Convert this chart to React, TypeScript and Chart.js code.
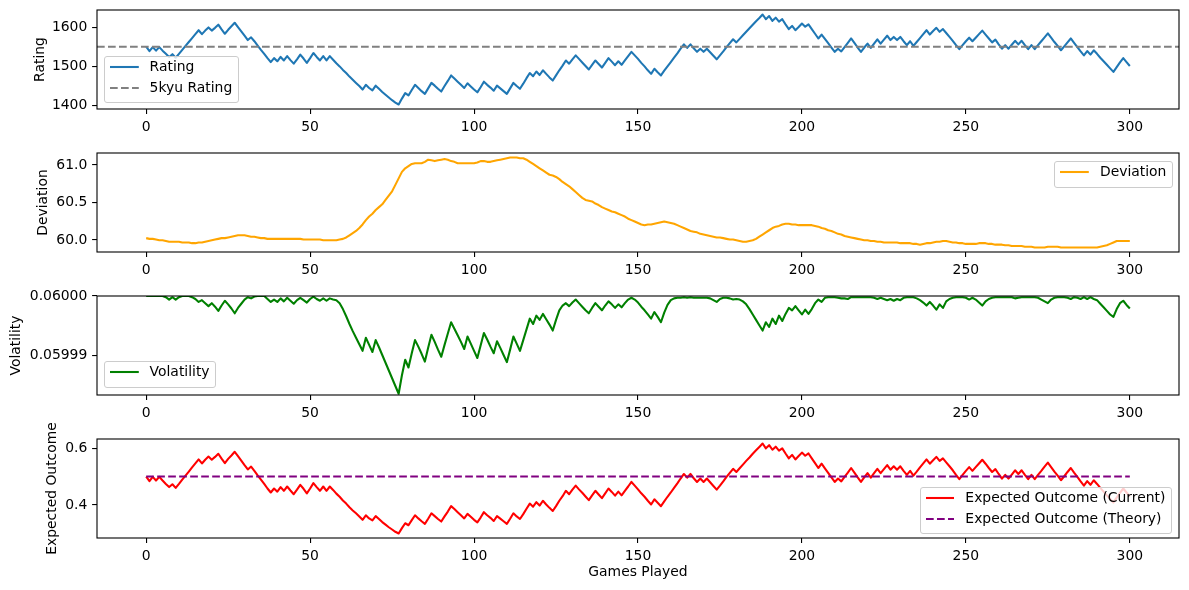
import React, { useEffect, useRef } from "react";
import { Chart, registerables } from "chart.js";

Chart.register(...registerables);

// ---------------- data ----------------
const rating = [
  1550, 1539, 1549, 1540, 1549, 1540, 1532, 1524, 1531, 1522,
  1532, 1542, 1552, 1562, 1572, 1582, 1592, 1582, 1591, 1599,
  1591, 1598, 1606, 1594, 1583, 1593, 1602, 1611, 1600, 1589,
  1578, 1567, 1574, 1564, 1553, 1542, 1532, 1521, 1511, 1521,
  1513, 1524, 1515, 1526, 1516, 1507, 1518, 1530, 1520, 1509,
  1521, 1534, 1524, 1515, 1526, 1515, 1526, 1517, 1508, 1500,
  1491, 1483, 1474, 1466, 1458, 1450, 1441, 1453, 1445, 1439,
  1451, 1443, 1435, 1428, 1421, 1414, 1408, 1403, 1418, 1432,
  1426, 1440, 1453, 1445, 1437, 1430, 1444, 1458, 1451, 1443,
  1436, 1450, 1463, 1477, 1469, 1461, 1453, 1445, 1457, 1449,
  1441, 1434, 1447, 1461, 1453, 1446, 1438, 1451, 1444, 1437,
  1430, 1444, 1458, 1450, 1443, 1456, 1470, 1483, 1475, 1487,
  1478, 1490, 1481, 1472, 1464, 1477, 1490, 1502, 1515, 1507,
  1518, 1528, 1519, 1510, 1501, 1492, 1504, 1515, 1506, 1497,
  1509, 1521, 1512, 1503, 1513, 1504, 1515, 1526, 1537, 1528,
  1519, 1509, 1500, 1490, 1481, 1494, 1485, 1477, 1489, 1500,
  1511, 1522, 1533, 1545, 1556, 1547, 1556, 1546, 1537, 1545,
  1537, 1545, 1536, 1527, 1518, 1528, 1538, 1549, 1559, 1569,
  1561, 1570, 1579, 1588, 1597, 1606, 1615, 1623, 1632, 1620,
  1628, 1616, 1624, 1614, 1620, 1607, 1595, 1603, 1592, 1600,
  1609, 1601, 1607, 1595, 1583, 1571, 1581, 1570, 1559, 1548,
  1537, 1545, 1538, 1549, 1560, 1571, 1560, 1548, 1537, 1548,
  1558, 1547, 1558, 1569, 1558, 1568, 1578, 1567, 1575, 1567,
  1575, 1564, 1554, 1564, 1552, 1562, 1572, 1582, 1592, 1581,
  1590, 1598, 1588, 1595, 1585, 1575, 1565, 1554, 1544, 1554,
  1564, 1573, 1564, 1573, 1582, 1591, 1581, 1571, 1561, 1568,
  1556, 1545, 1554, 1545, 1555, 1565, 1556, 1565, 1554, 1544,
  1554, 1544, 1554, 1564, 1574, 1584, 1573, 1562, 1552, 1541,
  1551, 1561, 1571, 1560, 1549, 1538, 1528, 1539, 1530, 1541,
  1532, 1522, 1513, 1504, 1495, 1486, 1498, 1510, 1521, 1511,
  1501,
];

const kyuRating = 1550;

const deviation = [
  60.025, 60.015, 60.015, 60.006, 59.996, 59.996, 59.986, 59.977, 59.977, 59.977,
  59.977, 59.967, 59.967, 59.967, 59.958, 59.958, 59.967, 59.967, 59.977, 59.986,
  59.996, 60.006, 60.015, 60.025, 60.025, 60.034, 60.044, 60.054, 60.063, 60.063,
  60.063, 60.054, 60.044, 60.044, 60.034, 60.025, 60.025, 60.015, 60.015, 60.015,
  60.015, 60.015, 60.015, 60.015, 60.015, 60.015, 60.015, 60.015, 60.006, 60.006,
  60.006, 60.006, 60.006, 60.006, 59.996, 59.996, 59.996, 59.996, 59.996, 60.006,
  60.015, 60.034, 60.063, 60.092, 60.121, 60.159, 60.207, 60.265, 60.313, 60.351,
  60.399, 60.438, 60.476, 60.534, 60.591, 60.649, 60.735, 60.822, 60.908, 60.956,
  60.985, 61.014, 61.023, 61.023, 61.023, 61.042, 61.071, 61.062, 61.052, 61.062,
  61.071, 61.081, 61.071, 61.052, 61.042, 61.023, 61.023, 61.023, 61.023, 61.023,
  61.023, 61.033, 61.052, 61.052, 61.042, 61.042, 61.052, 61.062, 61.071, 61.081,
  61.09, 61.1, 61.1, 61.1, 61.09, 61.09, 61.071, 61.042, 61.014, 60.985,
  60.956, 60.927, 60.898, 60.87, 60.86, 60.841, 60.812, 60.774, 60.745, 60.716,
  60.678, 60.639, 60.601, 60.562, 60.534, 60.524, 60.514, 60.486, 60.466, 60.438,
  60.418, 60.399, 60.38, 60.37, 60.351, 60.332, 60.313, 60.284, 60.265, 60.246,
  60.226, 60.207, 60.198, 60.207, 60.207, 60.217, 60.226, 60.236, 60.246, 60.236,
  60.226, 60.217, 60.198, 60.178, 60.159, 60.14, 60.121, 60.111, 60.102, 60.082,
  60.073, 60.063, 60.054, 60.044, 60.034, 60.034, 60.025, 60.015, 60.006, 60.006,
  59.996, 59.986, 59.977, 59.977, 59.986, 59.996, 60.015, 60.044, 60.073, 60.102,
  60.13, 60.159, 60.178, 60.188, 60.207, 60.217, 60.217, 60.207, 60.207, 60.198,
  60.198, 60.198, 60.198, 60.198, 60.188, 60.178, 60.159, 60.15, 60.13, 60.121,
  60.102, 60.082, 60.073, 60.054, 60.044, 60.034, 60.025, 60.015, 60.006, 59.996,
  59.996, 59.986, 59.986, 59.977, 59.977, 59.967, 59.967, 59.967, 59.967, 59.967,
  59.958, 59.958, 59.958, 59.958, 59.948, 59.948, 59.938, 59.948, 59.958, 59.958,
  59.967, 59.977, 59.977, 59.986, 59.986, 59.977, 59.967, 59.967, 59.958, 59.958,
  59.948, 59.948, 59.948, 59.948, 59.958, 59.958, 59.958, 59.948, 59.948, 59.938,
  59.938, 59.938, 59.929, 59.929, 59.919, 59.919, 59.919, 59.919, 59.91, 59.91,
  59.91, 59.9, 59.9, 59.9, 59.9, 59.91, 59.91, 59.91, 59.91, 59.9,
  59.9, 59.9, 59.9, 59.9, 59.9, 59.9, 59.9, 59.9, 59.9, 59.9,
  59.9, 59.91, 59.919, 59.929, 59.948, 59.967, 59.986, 59.986, 59.986, 59.986,
  59.986,
];

const volatility = [
  0.06, 0.06, 0.06, 0.06, 0.06, 0.06, 0.0599998, 0.0599994, 0.0599998, 0.0599994,
  0.0599998, 0.06, 0.06, 0.06, 0.0599998, 0.0599995, 0.059999, 0.0599993, 0.0599988, 0.0599983,
  0.0599988, 0.0599982, 0.0599975, 0.0599984, 0.0599992, 0.0599986, 0.0599979, 0.0599971, 0.059998, 0.0599987,
  0.0599994, 0.0599998, 0.0599996, 0.0599999, 0.06, 0.06, 0.06, 0.0599995, 0.059999, 0.0599994,
  0.059999, 0.0599996, 0.0599991, 0.0599997, 0.0599992, 0.0599987, 0.0599993, 0.0599997, 0.0599993, 0.0599989,
  0.0599995, 0.0599999, 0.0599995, 0.0599992, 0.0599996, 0.0599992, 0.0599996, 0.0599994, 0.0599993, 0.0599988,
  0.0599978, 0.0599966, 0.0599953, 0.0599941, 0.059993, 0.0599919, 0.0599908, 0.059993, 0.0599918, 0.0599906,
  0.0599926, 0.0599914, 0.0599901, 0.0599888, 0.0599875, 0.0599862, 0.0599849, 0.0599836, 0.0599867, 0.0599893,
  0.059988, 0.0599904, 0.0599926, 0.0599915, 0.0599903, 0.059989, 0.0599913, 0.0599935, 0.0599923, 0.059991,
  0.0599898, 0.0599918, 0.0599937, 0.0599956, 0.0599945, 0.0599934, 0.0599923, 0.0599911, 0.0599932, 0.059992,
  0.0599908, 0.0599896, 0.0599917, 0.0599938, 0.0599927, 0.0599915, 0.0599904, 0.0599924, 0.0599913, 0.0599901,
  0.0599889, 0.059991, 0.0599932, 0.059992, 0.0599908, 0.0599926, 0.0599944, 0.0599962, 0.0599953, 0.0599967,
  0.059996, 0.059997, 0.0599961, 0.0599952, 0.0599942, 0.059996, 0.0599976, 0.0599984, 0.0599988, 0.0599983,
  0.0599989, 0.0599994, 0.0599988, 0.0599982, 0.0599976, 0.0599971, 0.059998, 0.0599988, 0.0599982, 0.0599976,
  0.0599984, 0.0599991, 0.0599986, 0.059998, 0.0599986, 0.0599981, 0.0599988, 0.0599994, 0.0599997, 0.0599994,
  0.0599989, 0.0599982, 0.0599976, 0.0599969, 0.0599962, 0.0599973, 0.0599965, 0.0599956, 0.0599972, 0.0599985,
  0.0599993, 0.0599996, 0.0599997, 0.0599997, 0.0599998, 0.0599997, 0.0599998, 0.0599997, 0.0599997, 0.0599997,
  0.0599997, 0.0599997, 0.0599996, 0.0599993, 0.059999, 0.0599995, 0.0599997, 0.0599997, 0.0599996, 0.0599994,
  0.0599995, 0.0599994, 0.0599991, 0.0599986, 0.0599978, 0.0599969, 0.059996, 0.0599951, 0.0599942, 0.0599956,
  0.0599948, 0.0599962, 0.0599953, 0.0599967, 0.0599958, 0.059997, 0.059998, 0.0599976, 0.0599983, 0.0599976,
  0.0599969, 0.0599977, 0.059997, 0.0599978, 0.0599988, 0.0599994, 0.059999, 0.0599997, 0.0599998, 0.0599998,
  0.0599998, 0.0599997, 0.0599996, 0.0599996, 0.0599995, 0.0599998, 0.0599998, 0.0599998, 0.0599998, 0.0599998,
  0.0599998, 0.0599998, 0.0599997, 0.0599995, 0.0599997, 0.0599995, 0.0599993, 0.0599995, 0.0599992, 0.0599995,
  0.0599993, 0.0599997, 0.0599998, 0.0599998, 0.0599998, 0.0599996, 0.0599993, 0.0599989, 0.0599984, 0.059999,
  0.0599984, 0.0599977, 0.0599986, 0.059998, 0.0599991, 0.0599995, 0.0599997, 0.0599998, 0.0599998, 0.0599998,
  0.0599997, 0.0599994, 0.0599997, 0.0599994, 0.0599989, 0.0599984, 0.0599991, 0.0599995, 0.0599997, 0.0599998,
  0.0599998, 0.0599998, 0.0599998, 0.0599998, 0.0599998, 0.0599996, 0.0599997, 0.0599998, 0.0599998, 0.0599998,
  0.0599998, 0.0599998, 0.0599997, 0.0599994, 0.0599991, 0.0599988, 0.0599994, 0.0599997, 0.0599998, 0.0599998,
  0.0599998, 0.0599997, 0.0599995, 0.0599998, 0.0599997, 0.0599995, 0.0599998, 0.0599995, 0.0599998, 0.0599995,
  0.0599993, 0.0599987, 0.0599981, 0.0599975, 0.0599969, 0.0599965, 0.0599978, 0.0599988, 0.0599992, 0.0599985,
  0.0599979,
];

const expectedCurrent = [
  0.5, 0.484, 0.499, 0.486, 0.499, 0.486, 0.474, 0.463, 0.473, 0.46,
  0.474, 0.489, 0.503, 0.517, 0.532, 0.546, 0.56, 0.546, 0.559, 0.57,
  0.559, 0.569, 0.58, 0.563, 0.547, 0.562, 0.574, 0.587, 0.572, 0.556,
  0.54, 0.525, 0.535, 0.52, 0.504, 0.489, 0.474, 0.458, 0.444, 0.458,
  0.447, 0.463, 0.45, 0.465, 0.451, 0.438, 0.454, 0.471, 0.457, 0.441,
  0.458, 0.477, 0.463, 0.45, 0.465, 0.45, 0.465, 0.453, 0.44, 0.429,
  0.416, 0.405, 0.392, 0.381, 0.371, 0.36, 0.348, 0.364, 0.353, 0.346,
  0.361, 0.351, 0.34, 0.331, 0.322, 0.314, 0.306, 0.3, 0.319, 0.336,
  0.329, 0.347, 0.364, 0.353, 0.343, 0.334, 0.352, 0.371, 0.361, 0.351,
  0.342, 0.36, 0.377, 0.396, 0.386, 0.375, 0.364, 0.353, 0.369, 0.359,
  0.348, 0.339, 0.356, 0.375, 0.364, 0.355, 0.344, 0.361, 0.352, 0.343,
  0.334, 0.352, 0.371, 0.36, 0.351, 0.368, 0.387, 0.405, 0.394, 0.41,
  0.398, 0.415, 0.402, 0.39, 0.379, 0.396, 0.415, 0.431, 0.45, 0.438,
  0.454, 0.468, 0.455, 0.443, 0.43, 0.417, 0.434, 0.45, 0.437, 0.424,
  0.441, 0.458, 0.446, 0.433, 0.447, 0.434, 0.45, 0.465, 0.481, 0.468,
  0.455, 0.441, 0.429, 0.415, 0.402, 0.42, 0.408, 0.396, 0.413, 0.429,
  0.444, 0.46, 0.476, 0.493, 0.509, 0.496, 0.509, 0.494, 0.481, 0.493,
  0.481, 0.493, 0.48, 0.467, 0.454, 0.468, 0.483, 0.499, 0.513, 0.527,
  0.516, 0.529, 0.542, 0.555, 0.567, 0.58, 0.592, 0.604, 0.616, 0.599,
  0.61, 0.594, 0.605, 0.591, 0.599, 0.581, 0.564, 0.576, 0.56, 0.572,
  0.584, 0.573, 0.581, 0.564, 0.547, 0.53, 0.545, 0.529, 0.513, 0.497,
  0.481, 0.493, 0.483, 0.499, 0.514, 0.53, 0.514, 0.497, 0.481, 0.497,
  0.512, 0.496, 0.512, 0.527, 0.512, 0.526, 0.54, 0.524, 0.536, 0.524,
  0.536, 0.52, 0.506, 0.52, 0.503, 0.517, 0.532, 0.546, 0.56, 0.545,
  0.557, 0.569, 0.555, 0.564, 0.55, 0.536, 0.522, 0.506, 0.491, 0.506,
  0.52, 0.533, 0.52, 0.533, 0.546, 0.559, 0.545, 0.53, 0.516, 0.526,
  0.509, 0.493, 0.506, 0.493, 0.507, 0.522, 0.509, 0.522, 0.506, 0.491,
  0.506, 0.491, 0.506, 0.52, 0.535, 0.549, 0.533, 0.517, 0.503, 0.487,
  0.501, 0.516, 0.53, 0.514, 0.499, 0.483, 0.468, 0.484, 0.471, 0.487,
  0.474, 0.46, 0.447, 0.434, 0.421, 0.409, 0.426, 0.443, 0.458, 0.444,
  0.43,
];

const theoryOutcome = 0.5;

const xTicks = [0, 50, 100, 150, 200, 250, 300];
const ratingTicks = [1400, 1500, 1600];
const deviationTicks = [60.0, 60.5, 61.0];
const volatilityTicks = [0.05999, 0.06];
const outcomeTicks = [0.4, 0.6];

// ---------------- layout / style ----------------
const W = 1189;
const PLOT_LEFT = 97;
const PLOT_RIGHT_PAD = 10;
const FONT_FAMILY = "DejaVu Sans";
const FONT_SIZE = 13.9;
const LW = 2.08;
const DASH = [7.7, 3.3];

const games = rating.map((_, i) => i);
const xSpan = games[games.length - 1] - games[0];
const xMin = games[0] - xSpan * 0.05;
const xMax = games[games.length - 1] + xSpan * 0.05;

function padRange(vals: number[], frac = 0.05): [number, number] {
  const lo = Math.min(...vals);
  const hi = Math.max(...vals);
  const m = (hi - lo) * frac;
  return [lo - m, hi + m];
}

function volRange(vals: number[]): [number, number] {
  const lo = Math.min(...vals);
  const hi = Math.max(...vals);
  return [lo - (hi - lo) * 0.013, hi];
}

const boxPlugin = {
  id: "axesBox",
  afterDatasetsDraw(chart: any) {
    const { ctx, chartArea: a } = chart;
    ctx.save();
    ctx.strokeStyle = "#000";
    ctx.lineWidth = 1.1;
    ctx.strokeRect(a.left, a.top, a.right - a.left, a.bottom - a.top);
    ctx.restore();
  },
};

type PanelSpec = {
  top: number;
  height: number;
  padTop: number;
  xH: number;
  datasets: any[];
  yRange: [number, number];
  yTicks: number[];
  yFmt: (v: number) => string;
  yTitle: string;
  yTitleCenter: number;
  xTitle?: string;
  xTitleCenter?: number;
};

function line(data: any[], color: string, label: string, extra: any = {}) {
  return {
    label,
    data,
    borderColor: color,
    backgroundColor: color,
    borderWidth: LW,
    pointRadius: 0,
    pointHoverRadius: 0,
    tension: 0,
    fill: false,
    borderJoinStyle: "round",
    ...extra,
  };
}

function Panel({ spec }: { spec: PanelSpec }) {
  const ref = useRef<HTMLCanvasElement | null>(null);
  useEffect(() => {
    if (!ref.current) return;
    const font = { family: FONT_FAMILY, size: FONT_SIZE };
    const lineHeight = FONT_SIZE * 1.2;
    const grid = {
      display: true,
      drawOnChartArea: false,
      drawTicks: true,
      tickLength: 4.9,
      color: "#000",
      lineWidth: 1.1,
    };
    const chart = new Chart(ref.current, {
      type: "line",
      data: { datasets: spec.datasets },
      plugins: [boxPlugin],
      options: {
        responsive: false,
        animation: false,
        events: [],
        layout: { padding: { left: 0, right: PLOT_RIGHT_PAD, top: spec.padTop, bottom: 0 } },
        plugins: { legend: { display: false }, tooltip: { enabled: false } },
        scales: {
          x: {
            type: "linear",
            min: xMin,
            max: xMax,
            afterFit: (s: any) => {
              s.height = spec.xH;
            },
            afterBuildTicks: (s: any) => {
              s.ticks = xTicks.map((v) => ({ value: v }));
            },
            ticks: {
              color: "#000",
              font,
              padding: 4.8,
              maxRotation: 0,
              minRotation: 0,
              autoSkip: false,
              callback: (v: any) => String(v),
            },
            grid,
            border: { display: false },
            title: spec.xTitle
              ? {
                  display: true,
                  text: spec.xTitle,
                  color: "#000",
                  font,
                  padding: {
                    top: 0,
                    bottom: spec.height - (spec.xTitleCenter as number) - lineHeight / 2,
                  },
                }
              : { display: false },
          },
          y: {
            type: "linear",
            min: spec.yRange[0],
            max: spec.yRange[1],
            afterFit: (s: any) => {
              s.width = PLOT_LEFT;
            },
            afterBuildTicks: (s: any) => {
              s.ticks = spec.yTicks.map((v) => ({ value: v }));
            },
            ticks: {
              color: "#000",
              font,
              padding: 4.8,
              autoSkip: false,
              callback: (v: any) => spec.yFmt(Number(v)),
            },
            grid,
            border: { display: false },
            title: {
              display: true,
              text: spec.yTitle,
              color: "#000",
              font,
              padding: { top: spec.yTitleCenter - lineHeight / 2, bottom: 0 },
            },
          },
        },
      } as any,
    });
    return () => chart.destroy();
  }, [spec]);
  return (
    <canvas
      ref={ref}
      width={W}
      height={spec.height}
      style={{ position: "absolute", left: 0, top: spec.top, width: W, height: spec.height }}
    />
  );
}

type LegendItem = { label: string; color: string; dashed?: boolean };

function Legend({
  items,
  top,
  left,
  right,
}: {
  items: LegendItem[];
  top: number;
  left?: number;
  right?: number;
}) {
  return (
    <div
      style={{
        position: "absolute",
        top,
        left,
        right,
        background: "rgba(255,255,255,0.8)",
        border: "1px solid #cccccc",
        borderRadius: 3,
        padding: "0px 5.6px 4px 0px",
        fontFamily: FONT_FAMILY,
        fontSize: FONT_SIZE,
        color: "#000",
        zIndex: 5,
      }}
    >
      {items.map((it) => (
        <div key={it.label} style={{ display: "flex", alignItems: "center", height: 20.5 }}>
          <svg width={28.8} height={6} style={{ marginLeft: 4.8, marginRight: 11, flex: "none" }}>
            <line
              x1={0}
              y1={3}
              x2={28.8}
              y2={3}
              stroke={it.color}
              strokeWidth={LW}
              strokeDasharray={it.dashed ? DASH.join(" ") : undefined}
            />
          </svg>
          <span style={{ whiteSpace: "nowrap", lineHeight: 1 }}>{it.label}</span>
        </div>
      ))}
    </div>
  );
}

const xy = (vals: number[]) => games.map((g, i) => ({ x: g, y: vals[i] }));

const panels: PanelSpec[] = [
  {
    top: -10,
    height: 150,
    padTop: 20,
    xH: 31,
    datasets: [
      line(xy(rating), "#1f77b4", "Rating", { order: 1 }),
      line(
        [
          { x: xMin, y: kyuRating },
          { x: xMax, y: kyuRating },
        ],
        "#808080",
        "5kyu Rating",
        { borderDash: DASH, order: 0 }
      ),
    ],
    yRange: padRange([...rating, kyuRating]),
    yTicks: ratingTicks,
    yFmt: (v) => v.toFixed(0),
    yTitle: "Rating",
    yTitleCenter: 40,
  },
  {
    top: 133,
    height: 150,
    padTop: 20,
    xH: 31,
    datasets: [line(xy(deviation), "#ffa500", "Deviation")],
    yRange: padRange(deviation),
    yTicks: deviationTicks,
    yFmt: (v) => v.toFixed(1),
    yTitle: "Deviation",
    yTitleCenter: 43,
  },
  {
    top: 276,
    height: 150,
    padTop: 20,
    xH: 31,
    datasets: [line(xy(volatility), "#008000", "Volatility")],
    yRange: volRange(volatility),
    yTicks: volatilityTicks,
    yFmt: (v) => v.toFixed(5),
    yTitle: "Volatility",
    yTitleCenter: 16,
  },
  {
    top: 400,
    height: 190,
    padTop: 39,
    xH: 52,
    datasets: [
      line(xy(expectedCurrent), "#ff0000", "Expected Outcome (Current)", { order: 1 }),
      line(
        games.map((g) => ({ x: g, y: theoryOutcome })),
        "#800080",
        "Expected Outcome (Theory)",
        { borderDash: DASH, order: 0 }
      ),
    ],
    yRange: padRange([...expectedCurrent, theoryOutcome]),
    yTicks: outcomeTicks,
    yFmt: (v) => v.toFixed(1),
    yTitle: "Expected Outcome",
    yTitleCenter: 52,
    xTitle: "Games Played",
    xTitleCenter: 172,
  },
];

export default function App() {
  return (
    <div
      style={{
        position: "absolute",
        left: 0,
        top: 0,
        width: W,
        height: 590,
        background: "#fff",
        overflow: "hidden",
      }}
    >
      {panels.map((p, i) => (
        <Panel key={i} spec={p} />
      ))}
      <Legend
        left={104}
        top={56}
        items={[
          { label: "Rating", color: "#1f77b4" },
          { label: "5kyu Rating", color: "#808080", dashed: true },
        ]}
      />
      <Legend right={16} top={161} items={[{ label: "Deviation", color: "#ffa500" }]} />
      <Legend left={104} top={361} items={[{ label: "Volatility", color: "#008000" }]} />
      <Legend
        right={17}
        top={487}
        items={[
          { label: "Expected Outcome (Current)", color: "#ff0000" },
          { label: "Expected Outcome (Theory)", color: "#800080", dashed: true },
        ]}
      />
    </div>
  );
}
